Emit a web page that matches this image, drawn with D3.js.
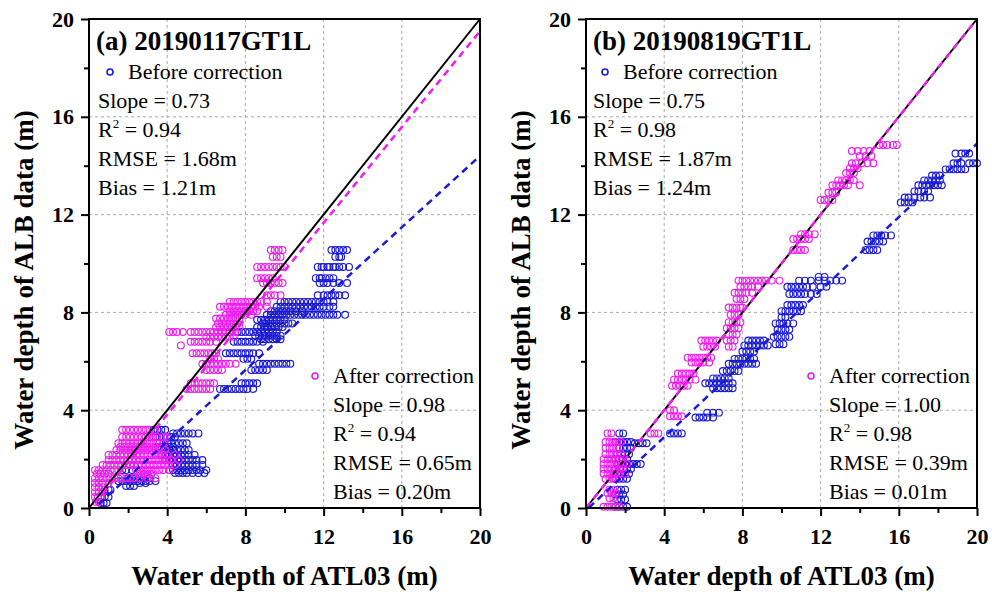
<!doctype html>
<html>
<head>
<meta charset="utf-8">
<title>ALB vs ATL03 water depth</title>
<script src="https://cdn.jsdelivr.net/npm/d3@7"></script>
<style>
  body { margin: 0; background: #fff; }
  text { font-family: "Liberation Serif", "Times New Roman", serif; }
</style>
</head>
<body>
<svg id="chart" width="992" height="594"></svg>
<script>
// rows of points: [y, x1, x2, ...]
const beforeA = [
  [10.55, 12.4, 12.6, 12.8, 13.0, 13.2],
  [10.27, 12.6, 12.8, 12.9],
  [9.86, 11.7, 11.9, 12.0, 12.2, 12.3, 12.5, 12.6, 12.8, 13.0, 13.3],
  [9.4, 11.6, 11.8, 11.9, 12.1, 12.3, 12.5],
  [9.2, 11.8, 12.0, 12.2, 12.5, 12.8, 13.2],
  [8.7, 11.7, 12.0, 12.2, 12.4, 12.6, 12.8, 13.1],
  [8.43, 9.8, 10.0, 10.2, 10.4, 10.6, 10.8, 11.0, 11.2, 11.4, 11.6, 11.8, 12.0, 12.2, 12.5],
  [8.23, 9.6, 9.8, 10.0, 10.2, 10.4, 10.6, 10.8, 11.0, 11.2, 11.4, 11.6, 11.8, 12.0, 12.3, 12.5],
  [8.05, 9.3, 9.5, 9.7, 9.9, 10.1, 10.3, 10.6, 10.9],
  [7.9, 9.1, 9.3, 9.5, 9.7, 9.9, 10.1, 10.3, 10.5, 10.7, 10.9, 11.1, 11.3, 11.5, 11.7, 11.9, 12.1, 12.3, 12.5, 12.7, 13.1],
  [7.7, 8.6, 8.8, 9.0, 9.2, 9.4, 9.6, 9.8, 10.0],
  [7.55, 8.9, 9.0, 9.2, 9.4, 9.6, 9.8, 10.0, 10.2, 10.4],
  [7.4, 8.6, 8.8, 9.0, 9.1, 9.3, 9.5, 9.7, 9.9],
  [7.2, 7.6, 7.8, 8.0, 8.2, 8.4, 8.6, 8.8, 9.0, 9.2, 9.4, 9.6],
  [7.05, 8.5, 8.7, 8.9, 9.0, 9.2, 9.4, 9.6, 9.8],
  [6.9, 8.8, 9.0, 9.2, 9.4, 9.6, 9.8],
  [6.8, 7.4, 7.6, 7.8, 8.0, 8.2, 8.4, 8.6, 8.9],
  [6.33, 7.0, 7.2, 7.4, 7.6, 7.8, 8.0, 8.2, 8.4, 8.7],
  [6.1, 7.9, 8.1, 8.3],
  [5.9, 8.7, 8.9, 9.1, 9.3, 9.5, 9.7, 9.9, 10.1, 10.3],
  [5.64, 8.3, 8.5, 8.7, 8.9, 9.1],
  [5.1, 7.8, 8.0, 8.2, 8.4, 8.6],
  [4.87, 6.7, 6.9, 7.1, 7.3, 7.5, 7.7, 7.9, 8.1, 8.4],
  [3.2, 3.3, 3.5, 3.7, 3.9],
  [3.05, 4.3, 4.5, 4.7, 4.9, 5.1, 5.3, 5.6],
  [2.9, 3.4, 3.6, 3.8, 4.0, 4.2, 4.4],
  [2.65, 3.6, 3.8, 4.0, 4.2, 4.4, 4.6, 4.8, 5.0],
  [2.5, 3.5, 3.7, 3.9, 4.1, 4.3],
  [2.37, 3.9, 4.1, 4.3, 4.5, 4.7, 4.9, 5.1],
  [2.17, 3.7, 3.9, 4.1, 4.3, 4.5, 4.7, 4.9, 5.1, 5.4],
  [1.96, 3.9, 4.1, 4.3, 4.5, 4.7, 4.9, 5.1, 5.3, 5.5, 5.8],
  [1.76, 4.3, 4.5, 4.7, 4.9, 5.1, 5.3, 5.5, 5.8],
  [1.55, 1.7, 1.9, 2.2, 4.1, 4.3, 4.5, 4.7, 4.9, 5.1, 5.3, 5.5, 5.7, 6.0],
  [1.43, 4.4, 4.6, 4.8, 5.0, 5.3, 5.6, 5.9],
  [1.22, 2.0, 2.2, 2.4, 2.6, 2.8, 3.1],
  [1.1, 1.5, 1.7, 1.9, 2.1, 2.3, 2.5, 2.7, 2.9, 3.1, 3.4],
  [1.02, 2.6, 2.9],
  [0.9, 1.9, 2.1, 2.3],
  [0.74, 0.8, 1.0, 1.1],
  [0.45, 0.6, 0.8, 1.0],
  [0.2, 0.6, 0.75, 0.9]
];
const afterA = [
  [10.55, 9.3, 9.5, 9.7, 9.9],
  [10.27, 9.4, 9.6, 9.8],
  [9.86, 8.6, 8.8, 9.0, 9.2, 9.4, 9.6, 9.8, 10.0],
  [9.4, 8.6, 8.8, 9.0, 9.2, 9.4],
  [9.2, 8.9, 9.1, 9.3, 9.5, 9.7, 9.9],
  [8.7, 9.1, 9.3, 9.5, 9.8],
  [8.43, 7.2, 7.4, 7.6, 7.8, 8.0, 8.2, 8.4, 8.6, 8.8, 9.1],
  [8.23, 6.7, 6.9, 7.1, 7.3, 7.5, 7.7, 7.9, 8.1, 8.3, 8.5, 8.7, 9.1],
  [8.05, 7.2, 7.4, 7.6, 7.8, 8.0, 8.2, 8.4, 8.6],
  [7.9, 7.0, 7.2, 7.4, 7.6, 7.8, 8.0, 8.3],
  [7.75, 6.5, 6.7, 6.9, 7.1, 7.3, 7.5, 7.7],
  [7.55, 6.6, 6.8, 7.0, 7.2, 7.4, 7.6],
  [7.4, 6.5, 6.7, 6.9, 7.1, 7.3, 7.5, 7.7],
  [7.2, 4.1, 4.3, 4.5, 4.8, 5.2, 5.4, 5.6, 5.8, 6.0, 6.2, 6.4, 6.6, 6.8, 7.0, 7.2, 7.5],
  [7.0, 6.0, 6.2, 6.4, 6.6, 6.8, 7.0, 7.2, 7.4],
  [6.8, 5.2, 5.4, 5.6, 5.8, 6.0, 6.2, 6.5],
  [6.65, 4.7],
  [6.33, 5.3, 5.5, 5.7, 5.9, 6.1, 6.3, 6.5],
  [6.1, 6.2, 6.4, 6.6],
  [5.9, 5.8, 6.0, 6.2, 6.4, 6.6, 6.8, 7.0, 7.2, 7.5],
  [5.64, 6.0, 6.2, 6.4, 6.6, 6.8],
  [5.1, 5.2, 5.4, 5.6, 5.8, 6.0, 6.2, 6.4],
  [4.87, 5.0, 5.2, 5.4, 5.6, 5.8, 6.0, 6.2],
  [3.2, 1.7, 1.9, 2.1, 2.3, 2.5, 2.7, 2.9, 3.1, 3.4],
  [2.9, 1.7, 1.9, 2.1, 2.3, 2.5, 2.7, 2.9, 3.1, 3.3, 3.5, 3.8, 4.0],
  [2.65, 1.5, 1.7, 1.9, 2.1, 2.3, 2.5, 2.7, 2.9, 3.1, 3.3, 3.5, 3.8],
  [2.5, 1.6, 1.8, 2.0, 2.2, 2.4, 2.6, 2.8, 3.0, 3.2, 3.4, 3.6],
  [2.37, 1.4, 1.6, 1.8, 2.0, 2.2, 2.4, 2.6, 2.8, 3.0, 3.2, 3.4, 3.6, 3.9],
  [2.17, 1.0, 1.2, 1.4, 1.6, 1.8, 2.0, 2.2, 2.4, 2.6, 2.8, 3.0, 3.2, 3.4, 3.6, 3.8, 4.0, 4.4],
  [1.96, 1.0, 1.2, 1.4, 1.6, 1.8, 2.0, 2.2, 2.4, 2.6, 2.8, 3.0, 3.2, 3.4, 3.6, 3.8, 4.0, 4.2, 4.6],
  [1.76, 0.7, 0.9, 1.1, 1.3, 1.5, 1.7, 1.9, 2.1, 2.3, 2.5, 2.7, 2.9, 3.1, 3.3, 3.5, 3.7, 3.9, 4.1, 4.4],
  [1.55, 0.3, 0.5, 0.7, 0.9, 1.1, 1.3, 1.5, 2.4, 2.6, 2.8, 3.0, 3.2, 3.4, 3.6, 3.8, 4.1],
  [1.4, 0.4, 0.6, 0.8, 1.0, 2.6, 2.8, 3.0, 3.2],
  [1.22, 0.3, 0.5, 0.7, 0.9, 1.1, 1.3, 1.5, 1.7, 1.9, 2.1, 2.3, 2.6, 3.0, 3.4],
  [1.02, 0.3, 0.5, 0.7, 1.0],
  [0.85, 0.3, 0.5, 0.7],
  [0.65, 0.3, 0.5, 0.7],
  [0.45, 0.3, 0.45, 0.6],
  [0.25, 0.35, 0.5]
];
const beforeB = [
  [3.05, 1.7, 1.9, 4.3, 4.5, 4.7, 4.9],
  [2.7, 1.5, 1.7, 1.9, 2.1, 2.3],
  [2.65, 2.5, 2.7, 2.9, 3.1],
  [2.45, 1.7, 1.9, 2.1, 2.3],
  [2.2, 1.6, 1.8, 2.0, 2.2],
  [2.0, 1.5, 1.7, 1.9, 2.1],
  [1.8, 1.6, 1.8, 2.0, 2.2, 2.4, 2.6, 2.8],
  [1.6, 1.5, 1.7, 1.9, 2.1, 2.3],
  [1.4, 1.4, 1.6, 1.8, 2.0, 2.2],
  [1.2, 1.5, 1.7, 1.9, 2.1],
  [0.75, 1.6, 1.8, 2.0],
  [0.55, 1.5, 1.7, 1.9],
  [0.35, 1.6, 1.8, 2.0],
  [0.05, 1.5, 1.7, 1.9, 2.1],
  [3.9, 6.2, 6.5, 6.8],
  [3.7, 5.6, 5.8, 6.0, 6.2, 6.5],
  [5.3, 6.5, 6.7, 6.9, 7.1, 7.3],
  [5.1, 6.1, 6.3, 6.5, 6.7, 6.9, 7.1, 7.3, 7.5],
  [4.9, 6.5, 6.7, 6.9, 7.1, 7.3, 7.5],
  [5.6, 7.0, 7.2, 7.4, 7.6, 7.8],
  [5.9, 7.3, 7.5, 7.7, 7.9, 8.1, 8.3, 8.5, 8.7],
  [6.1, 7.6, 7.8, 8.0, 8.2, 8.4, 8.6],
  [6.4, 8.0, 8.2, 8.4, 8.6],
  [6.65, 8.1, 8.3, 8.5, 8.7, 8.9, 9.1, 9.3],
  [6.85, 8.3, 8.5, 8.7, 8.9, 9.1],
  [6.7, 9.7, 9.9, 10.1],
  [7.0, 9.6, 9.8, 10.0, 10.2, 10.4],
  [7.3, 9.8, 10.0, 10.2, 10.4],
  [7.55, 9.7, 9.9, 10.1, 10.3, 10.6],
  [7.8, 10.0, 10.2],
  [8.05, 10.0, 10.2, 10.4, 10.6, 10.8, 11.0],
  [8.3, 10.3, 10.5, 10.7, 10.9, 11.1],
  [8.75, 10.4, 10.6, 10.8, 11.0, 11.2, 11.5, 11.8],
  [9.05, 10.3, 10.5, 10.7, 10.9, 11.1, 11.3, 11.6, 12.0, 12.3],
  [9.3, 10.9, 11.2, 11.5, 11.9, 12.2, 12.5, 12.8, 13.1],
  [9.45, 11.9, 12.2],
  [11.15, 14.7, 14.9, 15.1, 15.3, 15.6],
  [10.9, 14.4, 14.6, 14.8, 15.0, 15.2],
  [10.55, 14.3, 14.5, 14.7, 14.9],
  [12.5, 16.1, 16.3, 16.5, 16.7],
  [12.7, 16.3, 16.5, 16.8, 17.1, 17.3, 17.6],
  [12.95, 16.8, 17.0, 17.3, 17.5],
  [13.2, 17.0, 17.2, 17.4, 17.6, 17.8, 18.0, 18.2],
  [13.4, 17.3, 17.5, 17.7, 17.9, 18.1],
  [13.6, 17.7, 17.9, 18.1],
  [13.85, 18.4, 18.6, 18.8, 19.0, 19.2, 19.4],
  [14.1, 18.8, 19.0, 19.2, 19.6, 19.8, 20.0],
  [14.5, 18.9, 19.2, 19.4, 19.6]
];
const afterB = [
  [14.85, 15.0, 15.2, 15.4, 15.7, 15.9],
  [14.6, 13.6, 13.9, 14.2, 14.5],
  [14.4, 14.0, 14.3, 14.6],
  [14.1, 13.6, 13.8, 14.1, 14.4, 14.7],
  [13.9, 13.5, 13.7, 13.9],
  [13.7, 13.3, 13.5, 13.7],
  [13.4, 12.9, 13.1, 13.3, 13.5, 13.7],
  [13.2, 12.6, 12.8, 13.0, 13.2, 13.4, 14.0],
  [12.9, 12.4, 12.6, 12.8],
  [12.6, 12.0, 12.2, 12.4, 12.6],
  [11.2, 11.0, 11.2, 11.4, 11.7],
  [11.0, 10.6, 10.8, 11.0, 11.2, 11.4],
  [10.55, 10.6, 10.8, 11.0, 11.2],
  [9.3, 7.8, 8.0, 8.2, 8.4, 8.6, 8.8, 9.0, 9.2, 9.5, 9.9],
  [9.05, 7.9, 8.1, 8.3, 8.5, 8.8],
  [8.8, 7.6, 7.8, 8.0, 8.2, 8.5],
  [8.55, 7.7, 7.9, 8.1],
  [8.2, 7.3, 7.5, 7.7, 7.9, 8.0],
  [7.9, 7.4, 7.6, 7.8],
  [7.6, 7.3, 7.5, 7.7, 7.9],
  [7.35, 7.2, 7.4, 7.6, 7.8],
  [7.1, 7.3, 7.5, 7.7],
  [6.85, 5.9, 6.1, 6.3, 6.5, 6.7, 7.2, 7.4, 7.6],
  [6.6, 6.0, 6.2, 6.4, 6.6, 7.3, 7.5],
  [6.15, 5.2, 5.4, 5.6, 5.8, 6.0, 6.2, 6.4],
  [5.95, 5.4, 5.6, 5.8, 6.0, 6.3],
  [5.5, 4.7, 4.9, 5.1, 5.3, 5.5],
  [5.25, 4.5, 4.7, 4.9, 5.1, 5.3, 5.6],
  [5.0, 4.4, 4.6, 4.8, 5.0, 5.2],
  [4.0, 4.3, 4.5],
  [3.75, 4.3, 4.5, 4.7, 4.9],
  [3.05, 1.1, 1.3, 3.3, 3.5, 3.7],
  [2.7, 1.0, 1.2, 1.4, 1.6, 1.8],
  [2.45, 1.0, 1.2, 1.4, 1.6],
  [2.2, 1.0, 1.2, 1.4, 1.6, 1.8],
  [2.0, 0.9, 1.1, 1.3, 1.5, 1.7],
  [1.8, 0.9, 1.1, 1.3, 1.5, 1.7, 1.9, 2.1],
  [1.6, 0.9, 1.1, 1.3, 1.5, 1.7, 1.9],
  [1.4, 0.9, 1.1, 1.3, 1.5, 1.7, 2.0],
  [1.2, 1.0, 1.2, 1.4, 1.6],
  [0.75, 1.2, 1.4],
  [0.6, 1.1, 1.3, 1.5],
  [0.4, 1.2, 1.4],
  [0.05, 0.9, 1.1, 1.3, 1.5, 1.7]
];

// fitted lines: [slope, intercept, xStart, xEnd]
const fitBeforeA = [0.73, -0.2, 0.5, 20];
const fitAfterA = [0.98, -0.1, 0.3, 20];
const fitBeforeB = [0.75, -0.1, 0.15, 20];
const fitAfterB = [1.0, 0, 0, 20];

const titles = ["(a) 20190117GT1L", "(b) 20190819GT1L"];
const statsBefore = [["0.73", "0.94", "1.68m", "1.21m"], ["0.75", "0.98", "1.87m", "1.24m"]];
const statsAfter = [["0.98", "0.94", "0.65m", "0.20m"], ["1.00", "0.98", "0.39m", "0.01m"]];
const majorTicks = [0, 4, 8, 12, 16, 20];
const minorTicks = [2, 6, 10, 14, 18];

const blue = "#1a1ad4", magenta = "#ee1eee";
const W = 391, H = 489;
const svg = d3.select("#chart");
svg.append("rect").attr("width", 992).attr("height", 594).attr("fill", "#fff");

function rowsToPoints(rows) {
  const pts = [];
  rows.forEach(r => r.slice(1).forEach(x => pts.push([x, r[0]])));
  return pts;
}

function drawPanel(left, i, before, after, fitB, fitA) {
  const x = d3.scaleLinear().domain([0, 20]).range([0, W]);
  const y = d3.scaleLinear().domain([0, 20]).range([H, 0]);
  const g = svg.append("g").attr("transform", `translate(${left},19)`);

  // grid
  const grid = majorTicks.filter(t => t > 0 && t < 20);
  g.selectAll(".gx").data(grid).join("line")
    .attr("x1", d => x(d)).attr("x2", d => x(d)).attr("y1", 0).attr("y2", H)
    .attr("stroke", "#a8a8a8").attr("stroke-dasharray", "3,3");
  g.selectAll(".gy").data(grid).join("line")
    .attr("y1", d => y(d)).attr("y2", d => y(d)).attr("x1", 0).attr("x2", W)
    .attr("stroke", "#a8a8a8").attr("stroke-dasharray", "3,3");

  // points
  g.append("g").selectAll("circle").data(rowsToPoints(before)).join("circle")
    .attr("cx", d => x(d[0])).attr("cy", d => y(d[1])).attr("r", 3.4)
    .attr("fill", "none").attr("stroke", blue).attr("stroke-width", 1.15);
  g.append("g").selectAll("circle").data(rowsToPoints(after)).join("circle")
    .attr("cx", d => x(d[0])).attr("cy", d => y(d[1])).attr("r", 3.4)
    .attr("fill", "none").attr("stroke", magenta).attr("stroke-width", 1.15);

  // 1:1 line and fits
  g.append("line").attr("x1", x(0)).attr("y1", y(0)).attr("x2", x(20)).attr("y2", y(20))
    .attr("stroke", "#000").attr("stroke-width", 2);
  [[fitA, magenta], [fitB, blue]].forEach(([f, c]) => {
    g.append("line")
      .attr("x1", x(f[2])).attr("y1", y(f[0] * f[2] + f[1]))
      .attr("x2", x(f[3])).attr("y2", y(f[0] * f[3] + f[1]))
      .attr("stroke", c).attr("stroke-width", 2.5).attr("stroke-dasharray", "7,5");
  });

  // axes
  g.append("g").attr("transform", `translate(0,${H})`)
    .call(d3.axisBottom(x).tickValues(majorTicks).tickSize(8).tickPadding(12).tickFormat(d3.format("d")));
  g.append("g").attr("transform", `translate(0,${H})`)
    .call(d3.axisBottom(x).tickValues(minorTicks).tickSize(5).tickFormat(""));
  g.append("g")
    .call(d3.axisLeft(y).tickValues(majorTicks).tickSize(8).tickPadding(7).tickFormat(d3.format("d")));
  g.append("g").call(d3.axisLeft(y).tickValues(minorTicks).tickSize(5).tickFormat(""));
  g.selectAll(".domain").remove();
  g.selectAll(".tick line").attr("stroke", "#000").attr("stroke-width", 2);
  g.selectAll(".tick text").attr("font-size", 22)
    .attr("font-weight", "bold").attr("fill", "#000");

  g.append("rect").attr("width", W).attr("height", H)
    .attr("fill", "none").attr("stroke", "#000").attr("stroke-width", 2);

  // axis titles
  g.append("text").attr("x", W / 2).attr("y", 566).attr("text-anchor", "middle")
    .attr("font-size", 27).attr("font-weight", "bold").text("Water depth of ATL03 (m)");
  g.append("text").attr("transform", "translate(-56,261) rotate(-90)")
    .attr("text-anchor", "middle").attr("font-size", 27).attr("font-weight", "bold")
    .text("Water depth of ALB data (m)");

  // panel title
  g.append("text").attr("x", 7).attr("y", 31).attr("font-size", 27).attr("font-weight", "bold")
    .text(titles[i]);

  // legend entry plus its stats block
  function legend(lx, ly, sx, label, color, s) {
    g.append("circle").attr("cx", lx - 18).attr("cy", ly - 7).attr("r", 3)
      .attr("fill", "none").attr("stroke", color).attr("stroke-width", 1.6);
    g.append("text").attr("x", lx).attr("y", ly).attr("font-size", 22).text(label);
    const lines = ["Slope = " + s[0], null, "RMSE = " + s[2], "Bias = " + s[3]];
    lines.forEach((t, k) => {
      const tx = g.append("text").attr("x", sx).attr("y", ly + 29 * (k + 1)).attr("font-size", 22);
      if (t) tx.text(t);
      else {
        tx.append("tspan").text("R");
        tx.append("tspan").attr("dy", -9).attr("font-size", 13).text("2");
        tx.append("tspan").attr("dy", 9).text(" = " + s[1]);
      }
    });
  }
  const off = i === 1 ? -2 : 0;
  legend(39 + off, 60, 9 + off, "Before correction", blue, statsBefore[i]);
  legend(244 + off / 2, 364, 244 + off / 2, "After correction", magenta, statsAfter[i]);
}

drawPanel(89, 0, beforeA, afterA, fitBeforeA, fitAfterA);
drawPanel(586, 1, beforeB, afterB, fitBeforeB, fitAfterB);
</script>
</body>
</html>
